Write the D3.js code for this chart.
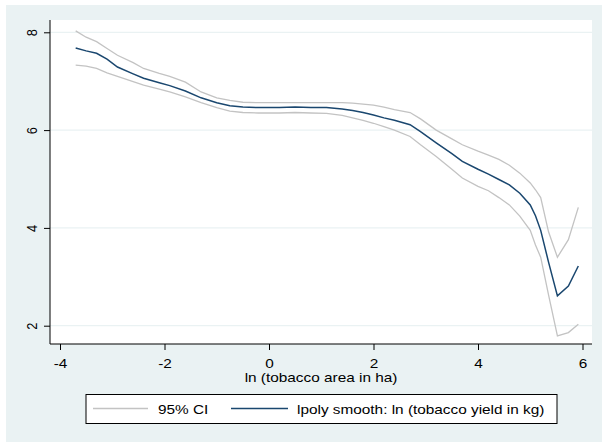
<!DOCTYPE html>
<html>
<head>
<meta charset="utf-8">
<script src="https://cdn.jsdelivr.net/npm/d3@7.9.0/dist/d3.min.js"></script>
<style>
  body { margin: 0; background: #fff; }
  svg { display: block; font-family: "Liberation Sans", Arial, sans-serif; }
</style>
</head>
<body>
<svg id="chart" width="602" height="442"></svg>
<script>
// grid of ln(tobacco area) values where the smooth is evaluated
const xGrid = [-3.7, -3.5, -3.3, -3.1, -2.9, -2.6, -2.4, -2.1, -1.9, -1.6, -1.3, -1.0,
  -0.75, -0.5, -0.2, 0.2, 0.5, 0.8, 1.1, 1.4, 1.6, 1.8, 2.0, 2.2, 2.4, 2.7, 2.9, 3.2,
  3.5, 3.7, 4.0, 4.2, 4.4, 4.6, 4.8, 5.0, 5.1, 5.2, 5.35, 5.52, 5.73, 5.92];

// lpoly smooth: ln (tobacco yield in kg)
const smooth = [7.68, 7.62, 7.57, 7.45, 7.29, 7.15, 7.06, 6.97, 6.91, 6.80, 6.66, 6.56,
  6.50, 6.47, 6.46, 6.46, 6.47, 6.46, 6.46, 6.43, 6.40, 6.36, 6.31, 6.25, 6.20, 6.11, 5.97, 5.74,
  5.52, 5.36, 5.20, 5.10, 4.99, 4.88, 4.71, 4.47, 4.25, 3.95, 3.30, 2.61, 2.81, 3.22];

// 95% CI bounds
const ciUpper = [8.03, 7.90, 7.81, 7.67, 7.53, 7.38, 7.26, 7.16, 7.10, 6.98, 6.78, 6.66,
  6.61, 6.57, 6.56, 6.56, 6.56, 6.56, 6.56, 6.56, 6.55, 6.53, 6.51, 6.47, 6.42, 6.36, 6.23, 6.00,
  5.82, 5.70, 5.57, 5.49, 5.40, 5.28, 5.12, 4.92, 4.78, 4.62, 3.92, 3.40, 3.76, 4.42];
const ciLower = [7.33, 7.31, 7.26, 7.17, 7.10, 6.99, 6.92, 6.84, 6.78, 6.68, 6.56, 6.46,
  6.39, 6.36, 6.35, 6.35, 6.36, 6.35, 6.34, 6.30, 6.25, 6.20, 6.14, 6.07, 6.00, 5.87, 5.70, 5.46,
  5.20, 5.02, 4.85, 4.76, 4.62, 4.47, 4.24, 3.95, 3.65, 3.40, 2.63, 1.79, 1.86, 2.03];

const xTicks = [-4, -2, 0, 2, 4, 6];
const yTicks = [2, 4, 6, 8];
const xTitle = "ln (tobacco area in ha)";
const legendLabels = ["95% CI", "lpoly smooth: ln (tobacco yield in kg)"];

const svg = d3.select("#chart");
const bg = "#eaf2f3";
const blue = "#1a476f";
const grey = "#c3c3c3";
const fs = 12.8;      // font size
const stretch = 1.2;  // the original graph is a bit wider than tall, text included

// plot region bounds
const plot = { left: 50, right: 592, top: 20, bottom: 344 };

svg.append("rect").attr("x", 6).attr("y", 5).attr("width", 596).attr("height", 437).attr("fill", bg);
svg.append("rect").attr("x", plot.left).attr("y", plot.top)
  .attr("width", plot.right - plot.left).attr("height", plot.bottom - plot.top).attr("fill", "#fff");

const x = d3.scaleLinear().domain([-4, 6]).range([60, 582.5]);
const y = d3.scaleLinear().domain([2, 8]).range([325.7, 32.3]);

// horizontal gridlines
svg.append("g").selectAll("line").data(yTicks).join("line")
  .attr("x1", plot.left).attr("x2", plot.right)
  .attr("y1", d => y(d)).attr("y2", d => y(d))
  .attr("stroke", bg).attr("stroke-width", 1.2);

// axes
const xAxis = svg.append("g").attr("transform", `translate(0,${plot.bottom})`)
  .call(d3.axisBottom(x).tickValues(xTicks).tickFormat(d => String(d)).tickSize(6).tickSizeOuter(0));
xAxis.select(".domain").remove();
xAxis.append("line").attr("x1", plot.left).attr("x2", plot.right).attr("stroke", "#000");
xAxis.selectAll(".tick text")
  .attr("font-size", fs).attr("fill", "#000")
  .attr("y", 15).attr("dy", "0.71em")
  .attr("transform", `scale(${stretch},1)`);

const yAxis = svg.append("g").attr("transform", `translate(${plot.left},0)`)
  .call(d3.axisLeft(y).tickValues(yTicks).tickFormat(d => String(d)).tickSize(6).tickSizeOuter(0));
yAxis.select(".domain").remove();
yAxis.append("line").attr("y1", plot.top).attr("y2", plot.bottom).attr("stroke", "#000");
yAxis.selectAll(".tick text")
  .attr("font-size", fs).attr("fill", "#000")
  .attr("x", 0).attr("y", 0).attr("dy", null)
  .attr("text-anchor", "middle")
  .attr("dominant-baseline", "central")
  .attr("transform", `translate(-18,0) scale(${stretch},1) rotate(-90)`);

svg.append("text")
  .attr("transform", `translate(${(plot.left + plot.right) / 2},382) scale(${stretch},1)`)
  .attr("text-anchor", "middle").attr("font-size", fs).text(xTitle);

// lines
const line = vals => d3.line().x((d, i) => x(xGrid[i])).y((d, i) => y(vals[i]))(vals);
svg.append("path").attr("d", line(ciUpper)).attr("fill", "none").attr("stroke", grey).attr("stroke-width", 1.3);
svg.append("path").attr("d", line(ciLower)).attr("fill", "none").attr("stroke", grey).attr("stroke-width", 1.3);
svg.append("path").attr("d", line(smooth)).attr("fill", "none").attr("stroke", blue).attr("stroke-width", 1.5);

// legend
const lg = svg.append("g");
lg.append("rect").attr("x", 86).attr("y", 394.5).attr("width", 471).attr("height", 29)
  .attr("fill", "#fff").attr("stroke", "#000").attr("stroke-width", 1);
const items = [
  { label: legendLabels[0], color: grey, x1: 93, x2: 148, tx: 158 },
  { label: legendLabels[1], color: blue, x1: 231, x2: 288, tx: 297 }
];
items.forEach(it => {
  lg.append("line").attr("x1", it.x1).attr("x2", it.x2).attr("y1", 408.5).attr("y2", 408.5)
    .attr("stroke", it.color).attr("stroke-width", it.color === blue ? 1.5 : 1.3);
  lg.append("text").attr("transform", `translate(${it.tx},414) scale(${stretch},1)`)
    .attr("font-size", fs).text(it.label);
});
</script>
</body>
</html>
